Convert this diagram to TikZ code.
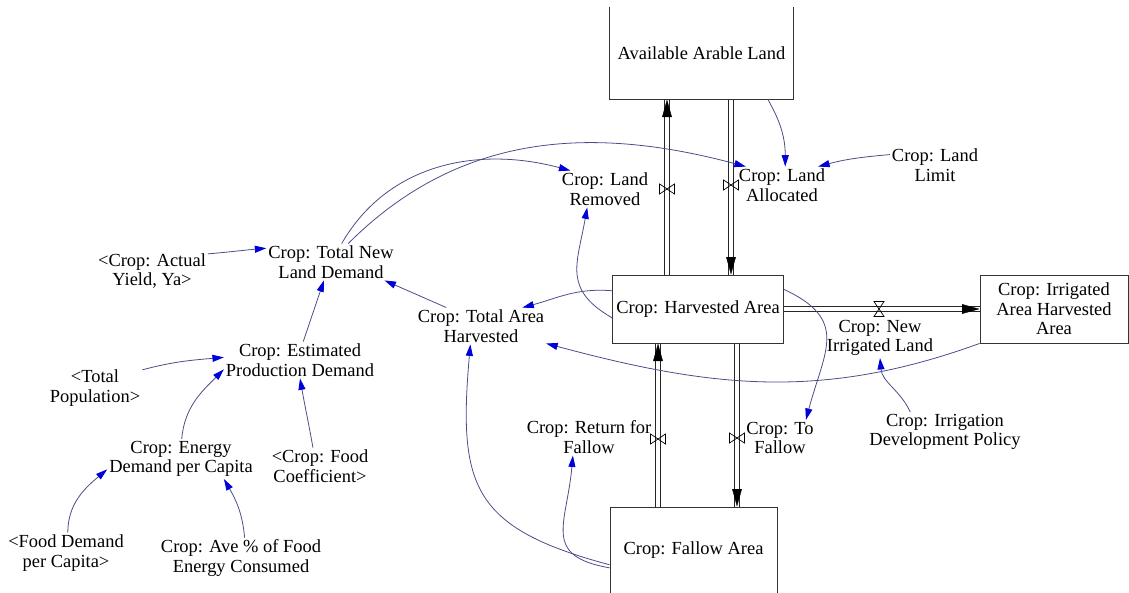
\documentclass[tikz,border=0pt]{standalone}
\usepackage{fontspec}
\setmainfont{Liberation Serif}
\usetikzlibrary{arrows.meta}
\pgfdeclarelayer{bg}
\pgfsetlayers{bg,main}
\definecolor{linkcol}{RGB}{75,75,135}
\definecolor{tipcol}{RGB}{0,0,220}

\tikzset{
  level/.style={rectangle, draw=black!80, line width=0.5pt, align=center, inner sep=2pt},
  var/.style={align=center, inner sep=1pt},
  link/.style={draw=linkcol, line width=0.45pt, -{Triangle[length=6.5pt, width=4pt, color=tipcol]}},
  pipe/.style={draw=black!85, line width=0.45pt, double=white, double distance=2.2pt},
  pipetip/.style={draw=white, line width=0.2pt, -{Triangle[length=10pt, width=5.5pt, color=black]}},
  valveV/.pic={\draw[line width=0.4pt] (-4.25pt,2.85pt) -- (4.25pt,-2.85pt) -- (4.25pt,2.85pt) -- (-4.25pt,-2.85pt) -- cycle;},
  valveH/.pic={\draw[line width=0.4pt] (-2.85pt,4.25pt) -- (2.85pt,4.25pt) -- (-2.85pt,-4.25pt) -- (2.85pt,-4.25pt) -- cycle;}
}

\begin{document}
\begin{tikzpicture}[x=0.02cm, y=0.02cm, font=\fontsize{10.5}{11.2}\selectfont]
\useasboundingbox (0,0) rectangle (1129,-592);

%%% stocks
\node [level, draw=none, minimum width=3.66cm, minimum height=1.84cm] (aal) at (701.5,-53) {Available Arable Land};
\draw [black!80, line width=0.5pt] (aal.north west) -- (aal.south west) -- (aal.south east) -- (aal.north east);
\node [level, minimum width=3.36cm, minimum height=1.36cm] (hv) at (698,-309) {Crop: Harvested Area};
\node [level, minimum width=2.96cm, minimum height=1.36cm] (irr) at (1054,-309) {Crop: Irrigated\\Area Harvested\\Area};
\node [level, minimum width=3.34cm, minimum height=1.72cm] (fal) at (693.5,-550) {Crop: Fallow Area};

%%% variables
\node [var] (la) at (782,-185) {Crop: Land\\Allocated};
\node [var] (ll) at (935,-165) {Crop: Land\\Limit};
\node [var] (lr) at (605,-189) {Crop: Land\\Removed};
\node [var] (tnld) at (331,-262) {Crop: Total New\\Land Demand};
\node [var] (yield) at (152,-271) {\textless Crop: Actual\\Yield, Ya\textgreater};
\node [var] (tah) at (481,-326) {Crop: Total Area\\Harvested};
\node [var] (epd) at (300,-360) {Crop: Estimated\\Production Demand};
\node [var] (pop) at (95,-388) {\textless Total\\Population\textgreater};
\node [var] (edpc) at (181,-459) {Crop: Energy\\Demand per Capita};
\node [var] (fc) at (320,-466) {\textless Crop: Food\\Coefficient\textgreater};
\node [var] (fdpc) at (66,-553) {\textless Food Demand\\per Capita\textgreater};
\node [var] (ave) at (241,-558) {Crop: Ave \% of Food\\Energy Consumed};
\node [var] (rff) at (589,-437) {Crop: Return for\\Fallow};
\node [var] (tf) at (780,-438) {Crop: To\\Fallow};
\node [var] (nil) at (880,-338) {Crop: New\\Irrigated Land};
\node [var] (idp) at (945,-432) {Crop: Irrigation\\Development Policy};

%%% valves
\coordinate (vRem) at (667,-189);
\coordinate (vAll) at (731,-185);
\coordinate (vRet) at (658,-439);
\coordinate (vTo) at (737,-438);
\coordinate (vNew) at (879,-309);
\pic at (vRem) {valveV};
\pic at (vAll) {valveV};
\pic at (vRet) {valveV};
\pic at (vTo) {valveV};
\pic at (vNew) {valveH};

%%% flows
\begin{pgfonlayer}{bg}
\draw [pipe] (vRem |- hv.north) -- (vRem |- aal.south);
\draw [pipetip] (vRem) -- (vRem |- aal.south);
\draw [pipe] (vAll |- aal.south) -- (vAll |- hv.north);
\draw [pipetip] (vAll) -- (vAll |- hv.north);
\draw [pipe] (vRet |- fal.north) -- (vRet |- hv.south);
\draw [pipetip] (vRet) -- (vRet |- hv.south);
\draw [pipe] (vTo |- hv.south) -- (vTo |- fal.north);
\draw [pipetip] (vTo) -- (vTo |- fal.north);
\draw [pipe] (hv.east) -- (irr.west);
\draw [pipetip] (vNew) -- (irr.west);
\end{pgfonlayer}

%%% links
\draw [link] (aal.-35) to[out=-60, in=90] (la.80);
\draw [link] (ll.167) to[out=185, in=15] (la.27);
\draw [link] (tnld.60) to[out=60, in=165] (lr.152);
\draw [link] (tnld.47) to[out=45, in=165] (la.153);
\draw [link] (hv.186) to[out=150, in=260, looseness=1.3] (lr.226);
\draw [link] (hv.168) to[out=175, in=15] (tah.24);
\draw [link] (tah.152) -- (tnld.-19);
\draw [link] (yield.17) to[out=5, in=185] (tnld.168);
\draw [link] (epd.80) -- (tnld.249);
\draw [link] (pop.21) to[out=15, in=185] (epd.178);
\draw [link] (edpc.88) to[out=85, in=225] (epd.187);
\draw [link] (fc.111) to[out=100, in=-80] (epd.south);
\draw [link] (fdpc.85) to[out=90, in=220] (edpc.188);
\draw [link] (ave.80) to[out=95, in=-60] (edpc.-25);
\draw [link] (fal.192) to[out=170, in=-95, looseness=1.5] (rff.229);
\draw [link] (fal.190) to[out=165, in=-95, looseness=1.4] (tah.240);
\draw [link] (hv.13) to[out=-25, in=75, looseness=1.4] (tf.35);
\draw [link] (irr.south west) to[out=200, in=-15] (tah.-15);
\draw [link] (idp.150) to[out=115, in=-85] (nil.south);

\end{tikzpicture}
\end{document}
